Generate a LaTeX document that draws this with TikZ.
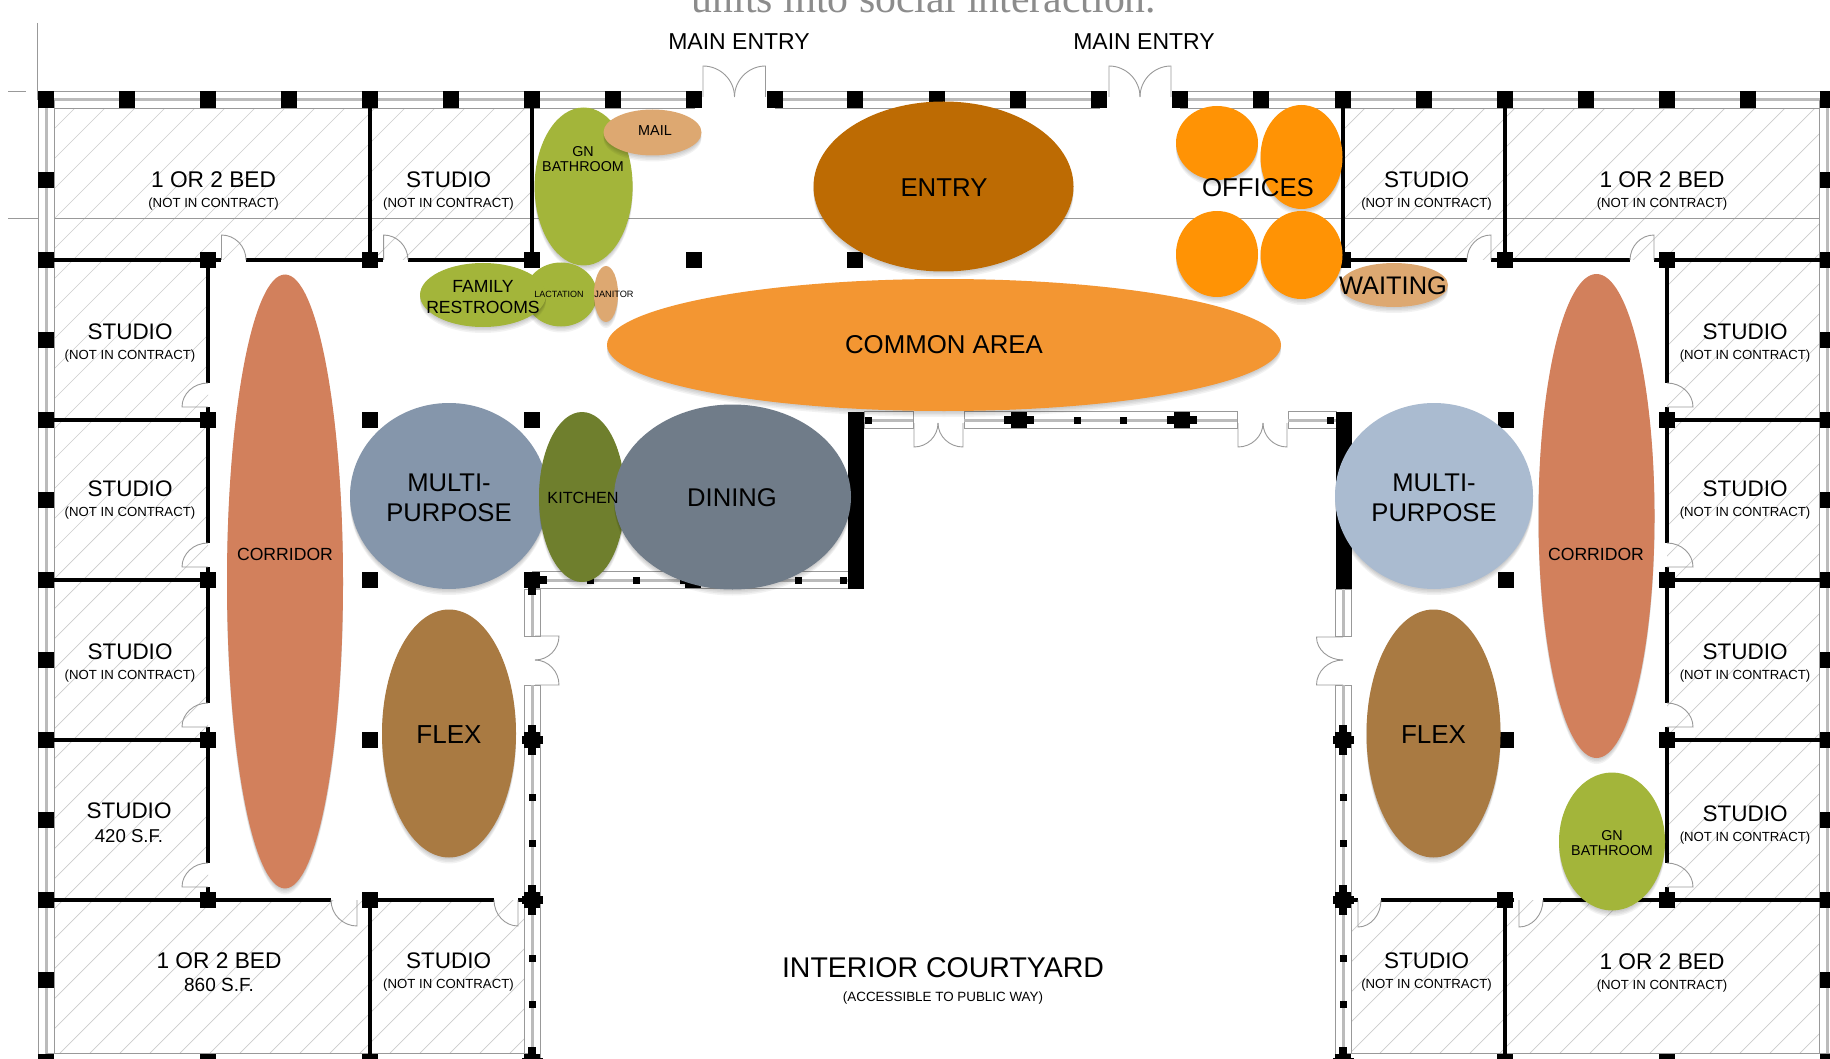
\documentclass[tikz,border=0pt]{standalone}
\usepackage{fontspec}
\setmainfont{Liberation Sans}
\newfontfamily\headfont{Liberation Serif}
\usetikzlibrary{shapes.geometric,calc}
\definecolor{cGreen}{HTML}{A3B53A}
\definecolor{cTan}{HTML}{DDA871}
\definecolor{cEntry}{HTML}{BD6B03}
\definecolor{cOffice}{HTML}{FF9305}
\definecolor{cCommon}{HTML}{F39632}
\definecolor{cCorr}{HTML}{D2805C}
\definecolor{cMultiL}{HTML}{8596AB}
\definecolor{cMultiR}{HTML}{AABBD0}
\definecolor{cKitchen}{HTML}{6F7F2D}
\definecolor{cDining}{HTML}{707C89}
\definecolor{cFlex}{HTML}{A97A42}
\definecolor{cLine}{HTML}{999999}
\definecolor{cBand}{HTML}{BBBBBB}
\definecolor{cHatch}{HTML}{CCCCCC}
\definecolor{cHead}{HTML}{8C8C8C}
\newcommand\fz[1]{\fontsize{#1}{#1}\selectfont}
\tikzset{
  wallline/.style={black,line width=2.3pt},
  winedge/.style={draw=cLine,fill=white,line width=.4pt},
  winband/.style={draw=cBand,line width=1.5pt},
  doorln/.style={draw=cLine,line width=.45pt},
  hatchln/.style={draw=cHatch,line width=.35pt},
  guide/.style={draw=cLine,line width=.4pt},
  lab/.style={inner sep=0pt,outer sep=0pt,text=black,align=center},
  blobnode/.style={ellipse,inner sep=0pt,outer sep=0pt,draw=none}
}
\newcommand\hwin[3]{\draw[winedge] (#1,#3-8.5) rectangle (#2,#3+8.5); \draw[winband] (#1,#3) -- (#2,#3);}
\newcommand\vwin[3]{\draw[winedge] (#3-8,#1) rectangle (#3+8,#2); \draw[winband] (#3,#1) -- (#3,#2);}
\newcommand\sq[2]{\fill[black] (#1-8,#2-8.3) rectangle (#1+8,#2+8.3);}
\newcommand\smsq[2]{\fill[black] (#1-3.5,#2-3.5) rectangle (#1+3.5,#2+3.5);}
\newcommand\crs[2]{\sq{#1}{#2}\fill[black] (#1-10.5,#2-4) rectangle (#1+10.5,#2+4);\fill[black] (#1-4,#2-15) rectangle (#1+4,#2+15);}
\newcommand\hcrs[2]{\sq{#1}{#2}\fill[black] (#1-15,#2-4) rectangle (#1+15,#2+4);}
\newcommand\door[3]{\draw[doorln] (#1) -- (#2) .. controls ($(#2)+.55*(#3)-.55*(#1)$) and ($(#3)+.55*(#2)-.55*(#1)$) .. (#3);}
% name, colour, cx, cy, rx, ry
\newcommand\blob[6]{%
  \foreach \s in {1.5,3,4.5,6}{\fill[black,opacity=.05] (#3,#4+\s) ellipse [x radius=#5,y radius=#6];}
  \node[blobnode,fill=#2,minimum width=#5pt,minimum height=#6pt] (#1) at (#3,#4) {};}
\newcommand\room[6]{\node[lab] (#1) at (#2,#3) {\fz{#4}#5\\[-2.3pt]\fz{6.6}#6};}
\begin{document}
\begin{tikzpicture}[x=0.5pt,y=-0.5pt]
\useasboundingbox (0,0) rectangle (1830,1059);
\fill[white] (0,0) rectangle (1830,1059);
\clip (0,0) rectangle (1830,1059);

% hatching of the apartments
\begin{scope}
\clip (54.5,107.5) rectangle (370,260) (370,107.5) rectangle (532,260)
      (54.5,260) rectangle (208,900) (54.5,900) rectangle (370,1053) (370,900) rectangle (524,1053)
      (1343,107.5) rectangle (1505,260) (1505,107.5) rectangle (1819.5,260)
      (1667,260) rectangle (1819.5,900) (1352,900) rectangle (1505,1053) (1505,900) rectangle (1819.5,1053);
\foreach \c in {93,123,...,2900}{\draw[hatchln] (\c,0) -- (\c-1100,1100);}
\end{scope}

% drawing guides
\draw[guide] (8,218) -- (1830,218);
\draw[guide] (37.5,23) -- (37.5,100);
\draw[guide] (8,91) -- (26,91);

% window walls
\hwin{46}{694}{99.5}\hwin{775}{1099}{99.5}\hwin{1180}{1840}{99.5}
\vwin{100}{1066}{46}\vwin{100}{1066}{1827.5}
\vwin{589}{636}{532}\vwin{685}{1066}{532}
\vwin{589}{636}{1343}\vwin{685}{1066}{1343}
\hwin{532}{848}{580}
\hwin{864}{913}{420}\hwin{964}{1237}{420}\hwin{1288}{1336}{420}
\hwin{46}{532}{1061.5}\hwin{1343}{1840}{1061.5}

% solid walls
\foreach \a/\b/\c in {46/221/260,246/383/260,408/532/260,1343/1467/260,1491/1630/260,1654/1827/260,
  46/208/420,46/208/580,46/208/740,1667/1827/420,1667/1827/580,1667/1827/740,
  46/331/900,362/494/900,518/532/900,1343/1358/900,1381/1514/900,1543/1827/900}
  {\draw[wallline] (\a,\c) -- (\b,\c);}
\foreach \a/\b/\c in {107/260/370,107/260/532,107/260/1343,107/260/1505,900/1066/370,900/1066/1505,
  260/383/208,407/543/208,567/703/208,727/863/208,887/900/208,
  260/383/1667,407/543/1667,567/703/1667,727/863/1667,887/900/1667}
  {\draw[wallline] (\c,\a) -- (\c,\b);}
\fill[black] (847.5,412) rectangle (864,589);
\fill[black] (1336,412) rectangle (1352,589);

% columns
\foreach \x in {46,127,208,289,370,451,532,613,694,775,855,937,1018,1099,1180,1261,1342.5,1423.5,1505,1586,1667,1747.5,1828}{\sq{\x}{99.5}}
\foreach \y in {180,260,340,420,500,580,660,740,820,900,980,1062}{\sq{46}{\y}\sq{1827.5}{\y}}
\foreach \y in {260,420,580,740,900}{\sq{208}{\y}\sq{1667}{\y}}
\sq{370}{260}\sq{532}{260}\sq{694}{260}\sq{855}{260}\sq{1343}{260}\sq{1505}{260}
\sq{370}{420}\sq{532}{420}\sq{370}{580}\sq{370}{740}
\sq{1505.5}{420}\sq{1505.5}{580}\sq{1505.5}{740}
\sq{370}{900}\sq{1505}{900}
\sq{208}{1062}\sq{370}{1062}\sq{1505}{1062}\sq{1667}{1062}
\sq{532}{580}\fill[black] (532,576) rectangle (547,584);\fill[black] (528,580) rectangle (536,595);
\crs{532}{740}\crs{532}{900}\crs{532}{1062}
\crs{1343}{740}\crs{1343}{900}\crs{1343}{1062}
\hcrs{1019}{420}\hcrs{1182}{420}
\sq{693}{580}
\foreach \y in {797,843,958,1004}{\smsq{532}{\y}\smsq{1343}{\y}}
\foreach \x in {590,636,683,798,843}{\smsq{\x}{580}}
\foreach \x in {868,1077,1123,1330}{\smsq{\x}{420}}

% doors
\door{703,97}{703,66}{734.5,97}\door{765.5,97}{765.5,66}{734.5,97}
\door{1109,97}{1109,66}{1140,97}\door{1171,97}{1171,66}{1140,97}
\door{221.5,260}{221.5,235}{246,260}\door{383.6,260}{383.6,235}{408,260}
\door{1491,260}{1491,235}{1467,260}\door{1654,260}{1654,235}{1630,260}
\foreach \d in {0,160,320,480}{
  \door{208,407+\d}{182,407+\d}{208,383+\d}
  \door{1667,407+\d}{1693,407+\d}{1667,383+\d}}
\door{357,900}{357,926}{331,900}\door{518,900}{518,926}{494,900}
\door{1358,900}{1358,927}{1381,900}\door{1519,900}{1519,927}{1543,900}
\door{535,636}{559,636}{535,660}\door{535,685}{559,685}{535,660}
\door{1343,637}{1316.5,637}{1343,660}\door{1343,685}{1316.5,685}{1343,660}
\door{914,423}{914,447}{938,423}\door{963,423}{963,447}{938,423}
\door{1238,423}{1238,447}{1263,423}\door{1287,423}{1287,447}{1263,423}

% bubbles
\blob{bGnL}{cGreen}{583.6}{186.5}{49}{79}
\blob{bMail}{cTan}{652.5}{132.5}{49}{23}
\blob{bEntry}{cEntry}{943.5}{186.5}{130}{85}
\blob{bOffA}{cOffice}{1217}{143}{41}{37}
\blob{bOffB}{cOffice}{1301.5}{157}{41}{52}
\blob{bOffC}{cOffice}{1217}{254}{41}{43}
\blob{bOffD}{cOffice}{1301.5}{255}{41}{44}
\blob{bWait}{cTan}{1394}{285}{54}{22}
\blob{bCommon}{cCommon}{944}{345}{337}{66}
\blob{bLact}{cGreen}{561}{294.5}{36}{32}
\blob{bFam}{cGreen}{483}{295}{63}{32}
\blob{bJan}{cTan}{606}{294}{12}{28}
\blob{bCorrL}{cCorr}{285}{581.5}{58}{307}
\blob{bMultiL}{cMultiL}{449}{496}{99}{93}
\blob{bKit}{cKitchen}{582}{497}{43}{85}
\blob{bDin}{cDining}{732.5}{497}{118.5}{92.5}
\blob{bFlexL}{cFlex}{449}{733.5}{67}{124}
\blob{bMultiR}{cMultiR}{1434}{496}{99}{93}
\blob{bCorrR}{cCorr}{1596.5}{516}{58}{242}
\blob{bFlexR}{cFlex}{1433.5}{733.5}{67}{124}
\blob{bGnR}{cGreen}{1612}{841.5}{53}{69}

% heading cut by the page edge
\node[inner sep=0pt,anchor=base,text=cHead] (heading) at (924,12.5) {\headfont\fz{20.9}units into social interaction.};

% labels
\node[lab] (tEntryA) at (739,42) {\fz{11.5}MAIN ENTRY};
\node[lab] (tEntryB) at (1144,42) {\fz{11.5}MAIN ENTRY};
\room{r1}{213.6}{191}{11.35}{1 OR 2 BED}{(NOT IN CONTRACT)}
\room{r2}{448.5}{191}{11.25}{STUDIO}{(NOT IN CONTRACT)}
\room{r3}{1426.5}{191}{11.25}{STUDIO}{(NOT IN CONTRACT)}
\room{r4}{1662}{191}{11.35}{1 OR 2 BED}{(NOT IN CONTRACT)}
\room{r5}{130}{343}{11.25}{STUDIO}{(NOT IN CONTRACT)}
\room{r6}{130}{500}{11.25}{STUDIO}{(NOT IN CONTRACT)}
\room{r7}{130}{663}{11.25}{STUDIO}{(NOT IN CONTRACT)}
\node[lab] (r8) at (129,823) {\fz{11.25}STUDIO\\[0pt]\fz{9.3}420 S.F.};
\node[lab] (r9) at (219,972.5) {\fz{11.35}1 OR 2 BED\\[-.5pt]\fz{9.5}860 S.F.};
\room{r10}{448.5}{972}{11.25}{STUDIO}{(NOT IN CONTRACT)}
\room{r11}{1745}{343}{11.25}{STUDIO}{(NOT IN CONTRACT)}
\room{r12}{1745}{500}{11.25}{STUDIO}{(NOT IN CONTRACT)}
\room{r13}{1745}{663}{11.25}{STUDIO}{(NOT IN CONTRACT)}
\room{r14}{1745}{825}{11.25}{STUDIO}{(NOT IN CONTRACT)}
\room{r15}{1426.5}{972}{11.25}{STUDIO}{(NOT IN CONTRACT)}
\room{r16}{1662}{973}{11.35}{1 OR 2 BED}{(NOT IN CONTRACT)}
\node[lab] (tGnL) at (583,159) {\fz{7.15}GN\\[-4.2pt]\fz{7.15}BATHROOM};
\node[lab] (tMail) at (655,131) {\fz{7.2}MAIL};
\node[lab] (tEntry) at (944,187.5) {\fz{12.9}ENTRY};
\node[lab] (tOffices) at (1258,188) {\fz{12.9}OFFICES};
\node[lab] (tWait) at (1393,286) {\fz{12.7}WAITING};
\node[lab] (tFam) at (483,297) {\fz{8.8}FAMILY\\[-1.3pt]\fz{8.8}RESTROOMS};
\node[lab] (tLact) at (559,294) {\fz{4.5}LACTATION};
\node[lab] (tJan) at (614,294) {\fz{4.6}JANITOR};
\node[lab] (tCommon) at (944,345) {\fz{12.9}COMMON AREA};
\node[lab] (tMultiL) at (449,498) {\fz{12.8}MULTI-\\[3.3pt]\fz{12.8}PURPOSE};
\node[lab] (tMultiR) at (1434,498) {\fz{12.8}MULTI-\\[3.3pt]\fz{12.8}PURPOSE};
\node[lab] (tKit) at (583,498) {\fz{8.1}KITCHEN};
\node[lab] (tDin) at (732,498) {\fz{12.8}DINING};
\node[lab] (tCorrL) at (285,554.5) {\fz{8.8}CORRIDOR};
\node[lab] (tCorrR) at (1596,554.5) {\fz{8.8}CORRIDOR};
\node[lab] (tFlexL) at (449,735) {\fz{13}FLEX};
\node[lab] (tFlexR) at (1433.5,735) {\fz{13}FLEX};
\node[lab] (tGnR) at (1612,843) {\fz{7.15}GN\\[-4.2pt]\fz{7.15}BATHROOM};
\node[lab] (tCourt) at (943,968) {\fz{14.25}INTERIOR COURTYARD};
\node[lab] (tCourtS) at (943,998.5) {\fz{6.7}(ACCESSIBLE TO PUBLIC WAY)};
\end{tikzpicture}
\end{document}
